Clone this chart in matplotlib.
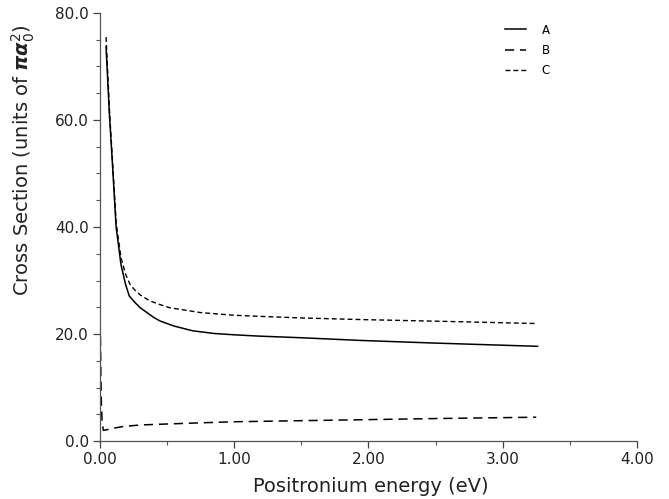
import matplotlib
matplotlib.use("Agg")
import matplotlib.pyplot as plt
from matplotlib.ticker import MultipleLocator, FormatStrFormatter

plt.rcParams['font.family'] = ['DejaVu Sans']
plt.rcParams['mathtext.fontset'] = 'dejavusans'

# Curve A (solid)
a_x = [0.045, 0.07, 0.095, 0.12, 0.156, 0.19, 0.218, 0.26, 0.3, 0.4, 0.45, 0.55, 0.69, 0.85,
       1.0, 1.19, 1.5, 1.94, 2.5, 3.26]
a_y = [73.7, 61.0, 50.8, 40.0, 33.0, 29.3, 27.1, 25.9, 24.9, 23.1, 22.4, 21.5, 20.6, 20.1,
       19.85, 19.6, 19.3, 18.8, 18.3, 17.7]
# Curve B (long dashes)
b_x = [0.003, 0.006, 0.010, 0.016, 0.025, 0.05, 0.1, 0.17, 0.3, 0.52, 0.75, 1.0, 1.5, 2.0,
       2.5, 3.25]
b_y = [19.5, 13.0, 7.0, 3.5, 2.0, 2.1, 2.4, 2.7, 3.0, 3.2, 3.4, 3.6, 3.8, 4.0, 4.2, 4.45]
# Curve C (short dashes)
c_x = [0.045, 0.07, 0.095, 0.12, 0.156, 0.19, 0.223, 0.26, 0.3, 0.37, 0.447, 0.52, 0.75, 1.0,
       1.19, 1.5, 1.94, 2.5, 3.26]
c_y = [75.5, 62.0, 51.5, 40.8, 34.3, 31.2, 29.3, 28.2, 27.3, 26.2, 25.5, 24.9, 24.0, 23.5,
       23.3, 23.0, 22.7, 22.4, 21.95]

labels = ['A', 'B', 'C']

fig = plt.figure(figsize=(6.69, 4.99), dpi=100)
ax = fig.add_axes([0.1495, 0.1162, 0.8025, 0.8578])

ax.plot(a_x, a_y, color='black', lw=1.1, linestyle='-', label=labels[0])
ax.plot(b_x, b_y, color='black', lw=1.1, linestyle=(0, (6, 3.8)), label=labels[1])
ax.plot(c_x, c_y, color='black', lw=1.0, linestyle=(0, (3.5, 2.2)), label=labels[2])

ax.set_xlim(0, 4.0)
ax.set_ylim(0, 80)
ax.xaxis.set_major_locator(MultipleLocator(1.0))
ax.xaxis.set_minor_locator(MultipleLocator(0.5))
ax.yaxis.set_major_locator(MultipleLocator(20))
ax.yaxis.set_minor_locator(MultipleLocator(5))
ax.xaxis.set_major_formatter(FormatStrFormatter('%.2f'))
ax.yaxis.set_major_formatter(FormatStrFormatter('%.1f'))

for s in ['top', 'right']:
    ax.spines[s].set_visible(False)
for s in ['left', 'bottom']:
    ax.spines[s].set_color('#555555')
    ax.spines[s].set_linewidth(0.9)

ax.tick_params(which='major', direction='out', length=5, width=0.9, color='#444444',
               labelsize=11, labelcolor='#222222', pad=3)
ax.tick_params(which='minor', direction='out', length=3, width=0.8, color='#555555')

ax.set_xlabel('Positronium energy (eV)', fontsize=14, color='#222222')
ax.xaxis.set_label_coords(0.505, -0.085)
ax.set_ylabel(r'Cross Section (units of $\boldsymbol{\pi\alpha}_{0}^{2}$)', fontsize=14,
              color='#222222')
ax.yaxis.set_label_coords(-0.118, 0.655)

ax.legend(loc='upper left', bbox_to_anchor=(0.735, 1.0), frameon=False, fontsize=8.5,
          handlelength=1.8, handletextpad=1.3, labelspacing=0.6)

fig.savefig('out.png', dpi=100)
